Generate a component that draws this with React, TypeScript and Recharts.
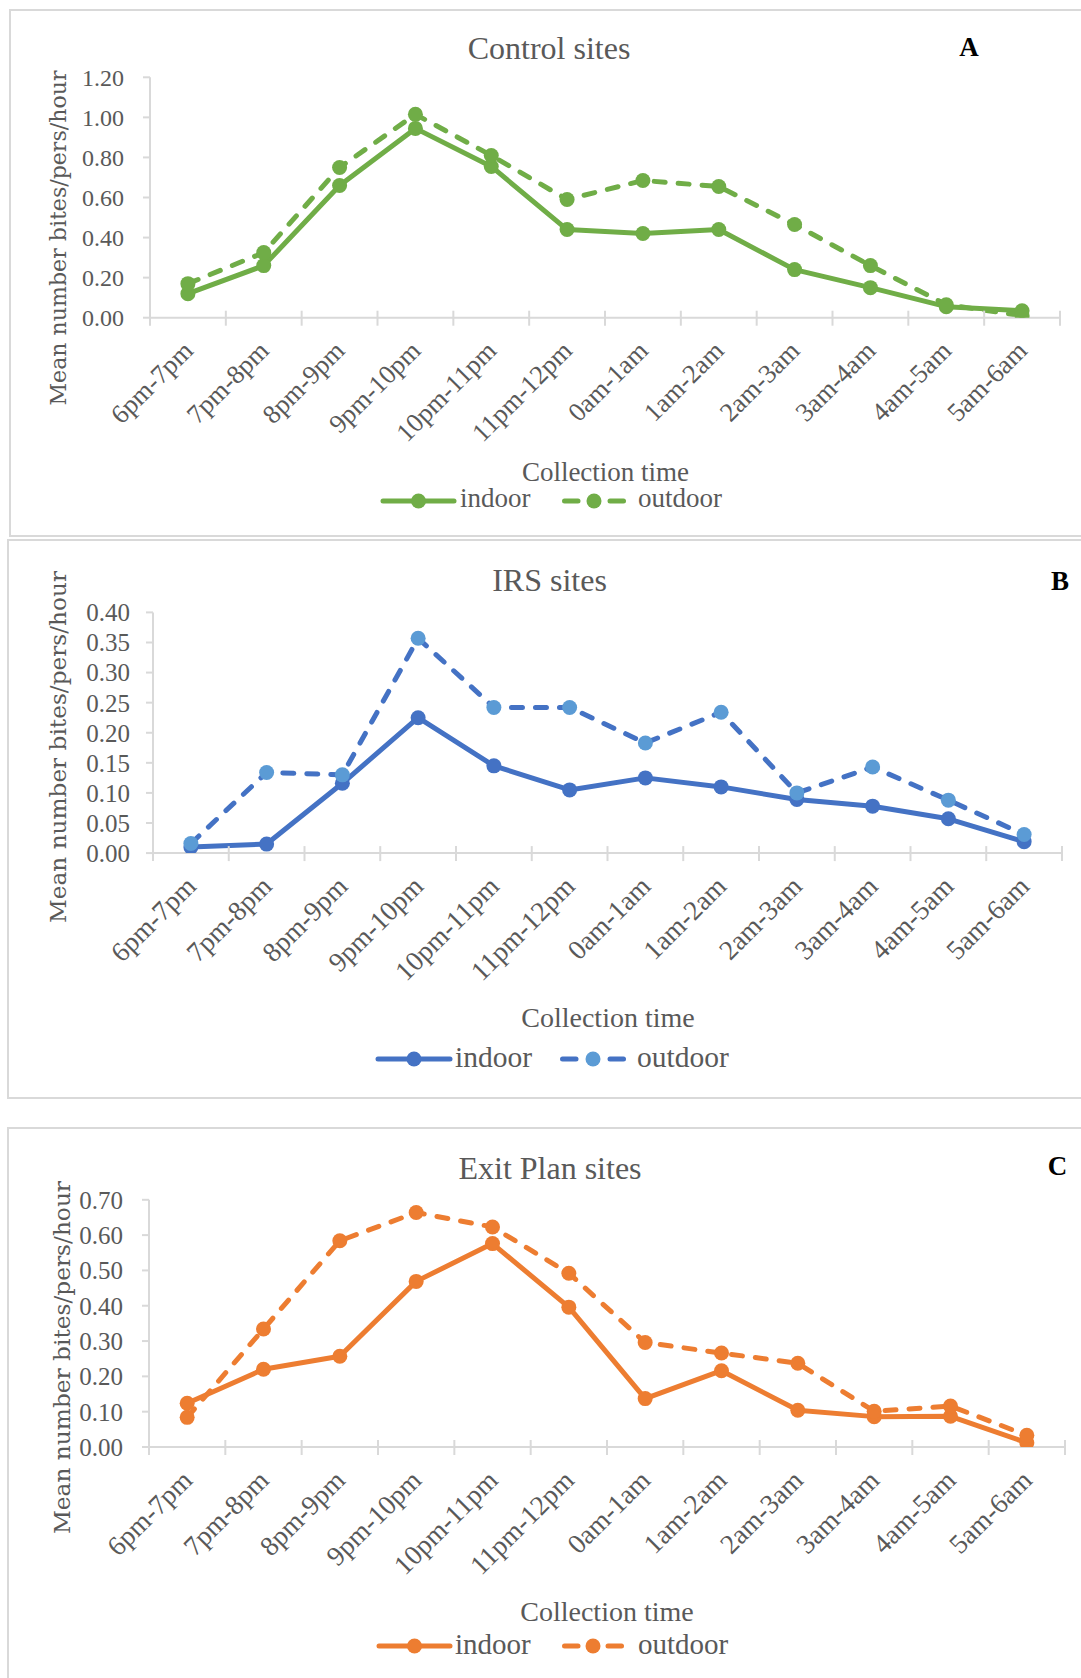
import React from 'react';
import { LineChart, Line, XAxis, YAxis, Legend, Customized } from 'recharts';

// ---------- data ----------
const categories = ['6pm-7pm', '7pm-8pm', '8pm-9pm', '9pm-10pm', '10pm-11pm', '11pm-12pm', '0am-1am', '1am-2am', '2am-3am', '3am-4am', '4am-5am', '5am-6am'];

const controlIndoor = [0.12, 0.26, 0.66, 0.945, 0.755, 0.44, 0.42, 0.44, 0.24, 0.15, 0.055, 0.035];
const controlOutdoor = [0.17, 0.325, 0.75, 1.015, 0.81, 0.59, 0.685, 0.655, 0.465, 0.26, 0.065, 0.01];

const irsIndoor = [0.01, 0.015, 0.116, 0.225, 0.145, 0.105, 0.125, 0.11, 0.089, 0.078, 0.057, 0.019];
const irsOutdoor = [0.016, 0.134, 0.13, 0.357, 0.242, 0.242, 0.183, 0.234, 0.1, 0.143, 0.088, 0.031];

const exitIndoor = [0.124, 0.22, 0.257, 0.469, 0.576, 0.396, 0.137, 0.216, 0.104, 0.086, 0.087, 0.012];
const exitOutdoor = [0.084, 0.334, 0.584, 0.664, 0.623, 0.492, 0.296, 0.266, 0.237, 0.101, 0.116, 0.033];

const controlTicks = [0, 0.2, 0.4, 0.6, 0.8, 1.0, 1.2];
const irsTicks = [0, 0.05, 0.1, 0.15, 0.2, 0.25, 0.3, 0.35, 0.4];
const exitTicks = [0, 0.1, 0.2, 0.3, 0.4, 0.5, 0.6, 0.7];

const seriesNames = { indoor: 'indoor', outdoor: 'outdoor' };

// ---------- styles ----------
const W = 1081;
const SERIF = '"Liberation Serif", "Times New Roman", serif';
const WIDE_SERIF = '"DejaVu Serif", serif';
const TEXT = '#595959';
const AXIS = '#d9d9d9';
const LW = 5;
const DOT_R = 7.5;

const XTick = (props: any) => {
  const { x, y, payload, index, bw, n, fontSize } = props;
  return (
    <g>
      <line x1={x - bw / 2} x2={x - bw / 2} y1={y - 7} y2={y + 8} stroke={AXIS} strokeWidth={2} />
      {index === n - 1 && (
        <line x1={x + bw / 2} x2={x + bw / 2} y1={y - 7} y2={y + 8} stroke={AXIS} strokeWidth={2} />
      )}
      <text
        transform={`translate(${x},${y + 28}) rotate(-45)`}
        textAnchor="end"
        dy="0.35em"
        fill={TEXT}
        fontSize={fontSize}
        fontFamily={SERIF}
      >
        {payload.value}
      </text>
    </g>
  );
};

type Cfg = any;

const Panel = ({ cfg }: { cfg: Cfg }) => {
  const data = categories.map((c, i) => ({ time: c, indoor: cfg.indoor[i], outdoor: cfg.outdoor[i] }));
  const { plot } = cfg;
  const bw = (plot.right - plot.left) / categories.length;
  const yMax = cfg.ticks[cfg.ticks.length - 1];
  const lg = cfg.legend;

  const legendContent = (props: any) => {
    const payload = props.payload || [];
    return (
      <svg width={W} height={44} style={{ display: 'block', overflow: 'visible' }}>
        {payload.map((entry: any) => {
          const key = entry.dataKey as 'indoor' | 'outdoor';
          const p = lg[key];
          const cy = 22;
          const mid = (p.x0 + p.x1) / 2;
          const dashed = key === 'outdoor';
          const dotColor = cfg.dotColors[key];
          return (
            <g key={key}>
              {dashed ? (
                <>
                  <line x1={p.x0 + 2.5} x2={p.x0 + 16} y1={cy} y2={cy} stroke={entry.color} strokeWidth={LW} strokeLinecap="round" />
                  <line x1={p.x1 - 16} x2={p.x1 - 2.5} y1={cy} y2={cy} stroke={entry.color} strokeWidth={LW} strokeLinecap="round" />
                </>
              ) : (
                <line x1={p.x0} x2={p.x1} y1={cy} y2={cy} stroke={entry.color} strokeWidth={LW} strokeLinecap="round" />
              )}
              <circle cx={mid} cy={cy} r={DOT_R} fill={dotColor} />
              <text x={p.tx} y={cy + lg.textDy} fill={TEXT} fontSize={lg.size} fontFamily={SERIF}>
                {entry.value}
              </text>
            </g>
          );
        })}
      </svg>
    );
  };

  const texts = () => (
    <g>
      <text x={cfg.title.x} y={cfg.title.y} textAnchor="middle" fill={TEXT} fontSize={32} fontFamily={SERIF}>
        {cfg.title.text}
      </text>
      <text x={cfg.letter.x} y={cfg.letter.y} textAnchor="middle" fill="#000" fontSize={27} fontWeight="bold" fontFamily={SERIF}>
        {cfg.letter.text}
      </text>
      <text
        transform={`translate(${cfg.ytitle.x},${cfg.ytitle.y}) rotate(-90)`}
        textAnchor="middle"
        dominantBaseline="central"
        fill={TEXT}
        fontSize={cfg.ytitle.size}
        fontFamily={WIDE_SERIF}
        textLength={cfg.ytitle.len}
        lengthAdjust="spacingAndGlyphs"
      >
        Mean number bites/pers/hour
      </text>
      <text x={cfg.xtitle.x} y={cfg.xtitle.y} textAnchor="middle" fill={TEXT} fontSize={cfg.xtitle.size} fontFamily={SERIF}>
        Collection time
      </text>
    </g>
  );

  return (
    <div style={{ position: 'absolute', left: 0, top: cfg.top, width: W, height: cfg.height }}>
      <LineChart
        width={W}
        height={cfg.height}
        data={data}
        margin={{ top: plot.top, right: W - plot.right, bottom: 0, left: 0 }}
      >
        <XAxis
          dataKey="time"
          interval={0}
          height={cfg.height - plot.bottom}
          padding={{ left: bw / 2, right: bw / 2 }}
          axisLine={{ stroke: AXIS, strokeWidth: 2 }}
          tickLine={false}
          tickSize={0}
          tickMargin={0}
          tick={<XTick bw={bw} n={categories.length} fontSize={cfg.xTickFont} />}
        />
        <YAxis
          type="number"
          width={plot.left}
          domain={[0, yMax]}
          ticks={cfg.ticks}
          interval={0}
          allowDataOverflow
          tickFormatter={(v: number) => v.toFixed(2)}
          axisLine={{ stroke: AXIS, strokeWidth: 2 }}
          tickLine={{ stroke: AXIS, strokeWidth: 2 }}
          tickSize={7}
          tickMargin={cfg.yTickMargin}
          tick={{ fill: TEXT, fontSize: cfg.tickFont, fontFamily: SERIF }}
        />
        <Line
          type="linear"
          dataKey="indoor"
          name={seriesNames.indoor}
          stroke={cfg.lineColor}
          strokeWidth={LW}
          strokeLinejoin="round"
          dot={{ r: DOT_R, fill: cfg.dotColors.indoor, stroke: cfg.dotColors.indoor, strokeWidth: 0 }}
          activeDot={false}
          isAnimationActive={false}
        />
        <Line
          type="linear"
          dataKey="outdoor"
          name={seriesNames.outdoor}
          stroke={cfg.lineColor}
          strokeWidth={LW}
          strokeDasharray="11 13"
          strokeLinecap="round"
          dot={{ r: DOT_R, fill: cfg.dotColors.outdoor, stroke: cfg.dotColors.outdoor, strokeWidth: 0, strokeDasharray: '0' }}
          activeDot={false}
          isAnimationActive={false}
        />
        <Legend
          layout="horizontal"
          verticalAlign="middle"
          align="center"
          content={legendContent}
          wrapperStyle={{ left: 0, top: lg.y - 22, width: W, height: 44 }}
        />
        <Customized component={texts} />
      </LineChart>
    </div>
  );
};

const panels: Cfg[] = [
  {
    top: 0,
    height: 540,
    plot: { left: 150, right: 1060, top: 77.3, bottom: 317.7 },
    indoor: controlIndoor,
    outdoor: controlOutdoor,
    ticks: controlTicks,
    lineColor: '#70AD47',
    dotColors: { indoor: '#70AD47', outdoor: '#70AD47' },
    title: { x: 549, y: 58.5, text: 'Control sites' },
    letter: { x: 969, y: 56, text: 'A' },
    ytitle: { x: 58, y: 238, len: 335, size: 22 },
    xtitle: { x: 605.5, y: 481, size: 27 },
    legend: { y: 501, textDy: 6, size: 27, indoor: { x0: 383, x1: 454, tx: 460 }, outdoor: { x0: 562, x1: 626, tx: 638 } },
    tickFont: 24,
    xTickFont: 26.5,
    yTickMargin: 19,
  },
  {
    top: 540,
    height: 560,
    plot: { left: 153, right: 1062, top: 72.4, bottom: 313.1 },
    indoor: irsIndoor,
    outdoor: irsOutdoor,
    ticks: irsTicks,
    lineColor: '#4472C4',
    dotColors: { indoor: '#4472C4', outdoor: '#5B9BD5' },
    title: { x: 549.5, y: 51.4, text: 'IRS sites' },
    letter: { x: 1060, y: 49.5, text: 'B' },
    ytitle: { x: 58, y: 207, len: 352, size: 23 },
    xtitle: { x: 608, y: 486.7, size: 28 },
    legend: { y: 519.3, textDy: 8, size: 29.5, indoor: { x0: 378, x1: 450, tx: 455 }, outdoor: { x0: 560, x1: 626, tx: 637 } },
    tickFont: 25,
    xTickFont: 27.5,
    yTickMargin: 16,
  },
  {
    top: 1100,
    height: 578,
    plot: { left: 149, right: 1065, top: 99.8, bottom: 347 },
    indoor: exitIndoor,
    outdoor: exitOutdoor,
    ticks: exitTicks,
    lineColor: '#ED7D31',
    dotColors: { indoor: '#ED7D31', outdoor: '#ED7D31' },
    title: { x: 550, y: 79, text: 'Exit Plan sites' },
    letter: { x: 1057.5, y: 75, text: 'C' },
    ytitle: { x: 62, y: 257.5, len: 353, size: 23 },
    xtitle: { x: 607, y: 521, size: 28 },
    legend: { y: 545.5, textDy: 7.5, size: 29, indoor: { x0: 379, x1: 450, tx: 455 }, outdoor: { x0: 562, x1: 624, tx: 638 } },
    tickFont: 25,
    xTickFont: 27.5,
    yTickMargin: 19,
  },
];

const borders = [
  { left: 9, top: 9, width: 1090, height: 528 },
  { left: 7, top: 539, width: 1090, height: 560 },
  { left: 7, top: 1127, width: 1090, height: 600 },
];

export default function App() {
  return (
    <div style={{ position: 'absolute', left: 0, top: 0, width: W, height: 1678, overflow: 'hidden', background: '#fff' }}>
      {borders.map((b, i) => (
        <div
          key={i}
          style={{
            position: 'absolute',
            left: b.left,
            top: b.top,
            width: b.width,
            height: b.height,
            border: `2px solid ${AXIS}`,
            boxSizing: 'border-box',
          }}
        />
      ))}
      {panels.map((cfg, i) => (
        <Panel key={i} cfg={cfg} />
      ))}
    </div>
  );
}
